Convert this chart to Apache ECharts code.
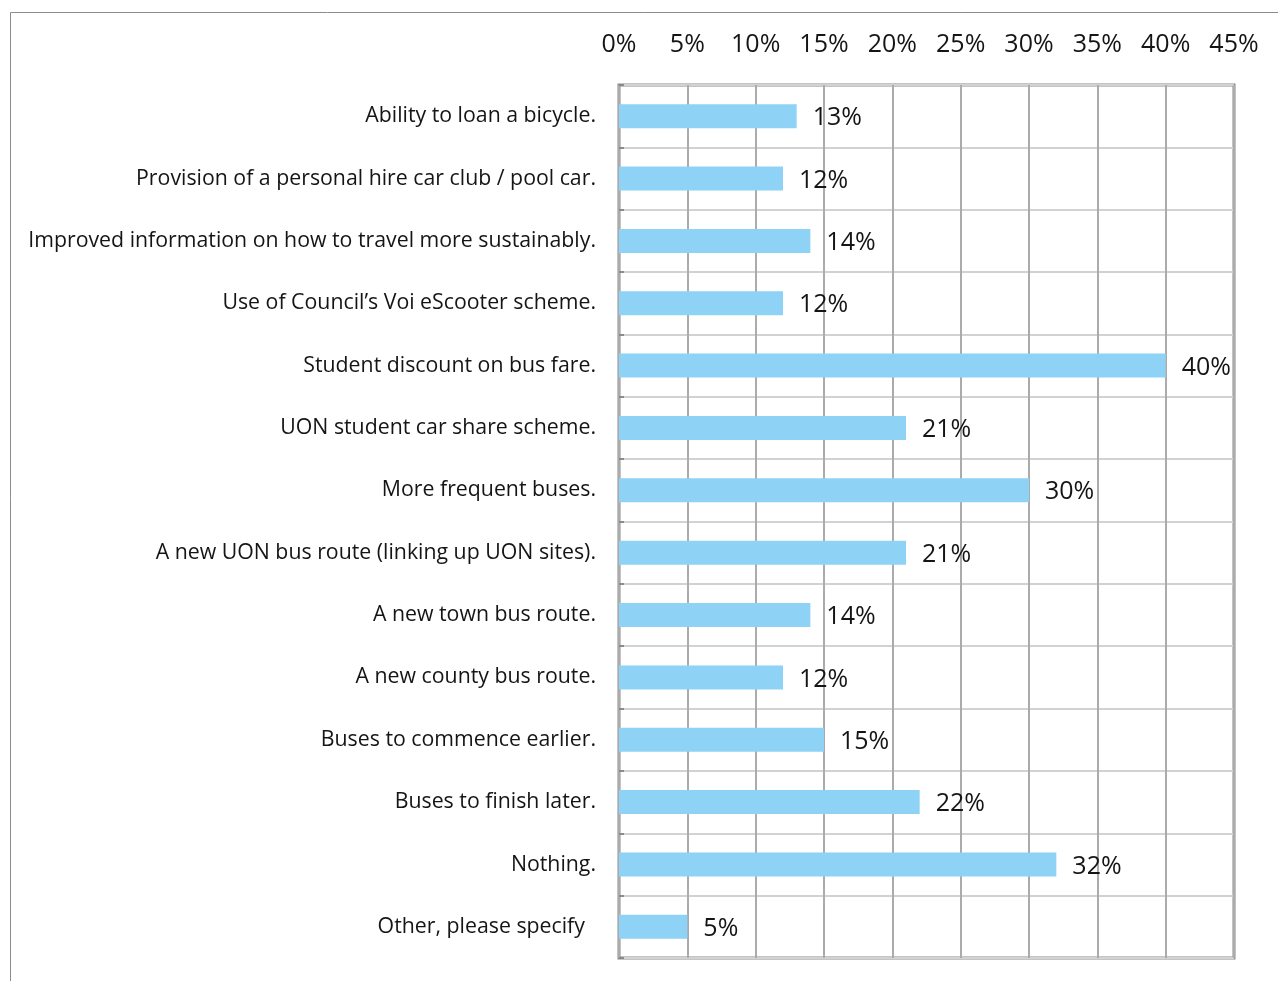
<!DOCTYPE html>
<html>
<head>
<meta charset="utf-8">
<style>
  html, body { margin: 0; padding: 0; background: #fff; }
  #chart { width: 1278px; height: 981px; }
</style>
<script src="https://cdn.jsdelivr.net/npm/echarts@6/dist/echarts.min.js"></script>
</head>
<body>
<div id="chart"></div>
<script>
// Survey options, listed top to bottom
const categories = [
  'Ability to loan a bicycle.',
  'Provision of a personal hire car club / pool car.',
  'Improved information on how to travel more sustainably.',
  'Use of Council\u2019s Voi eScooter scheme.',
  'Student discount on bus fare.',
  'UON student car share scheme.',
  'More frequent buses.',
  'A new UON bus route (linking up UON sites).',
  'A new town bus route.',
  'A new county bus route.',
  'Buses to commence earlier.',
  'Buses to finish later.',
  'Nothing.',
  'Other, please specify  '
];

// Share of respondents choosing each option (%)
const shares = [13, 12, 14, 12, 40, 21, 30, 21, 14, 12, 15, 22, 32, 5];

// Percentage axis range
const axisMin = 0;
const axisMax = 45;
const axisStep = 5;

const font = '"Open Sans", "Noto Sans", sans-serif';
const chart = echarts.init(document.getElementById('chart'));

chart.setOption({
  backgroundColor: '#ffffff',
  animation: false,
  graphic: [{
    type: 'rect',
    silent: true,
    shape: { x: 10.5, y: 12.5, width: 1400, height: 1100 },
    style: { fill: 'none', stroke: '#8c8c8c', lineWidth: 1 }
  }],
  grid: {
    left: 619, top: 85, right: 44, bottom: 23,
    show: true,
    borderColor: '#8a8a8a',
    borderWidth: 3,
    backgroundColor: 'transparent'
  },
  xAxis: {
    type: 'value',
    position: 'top',
    min: axisMin,
    max: axisMax,
    interval: axisStep,
    axisLine: { show: false },
    axisTick: { show: false },
    axisLabel: {
      formatter: '{value}%',
      fontFamily: font,
      fontSize: 25,
      color: '#151515',
      margin: 28
    },
    splitLine: { show: true, lineStyle: { color: '#ababab', width: 2 } }
  },
  yAxis: {
    type: 'category',
    inverse: true,
    data: categories,
    axisLine: { show: false },
    axisTick: { show: true, inside: true, length: 5, lineStyle: { color: '#8a8a8a', width: 2 } },
    axisLabel: {
      fontFamily: font,
      fontSize: 21.3,
      color: '#151515',
      margin: 23
    },
    splitLine: { show: true, lineStyle: { color: '#d2d2d2', width: 2 } }
  },
  series: [{
    type: 'bar',
    data: shares,
    barWidth: 24,
    itemStyle: { color: '#8ed3f6' },
    label: {
      show: true,
      position: 'right',
      distance: 16,
      formatter: '{c}%',
      fontFamily: font,
      fontSize: 25,
      color: '#151515',
      offset: [0, 2]
    }
  }]
});
</script>
</body>
</html>
